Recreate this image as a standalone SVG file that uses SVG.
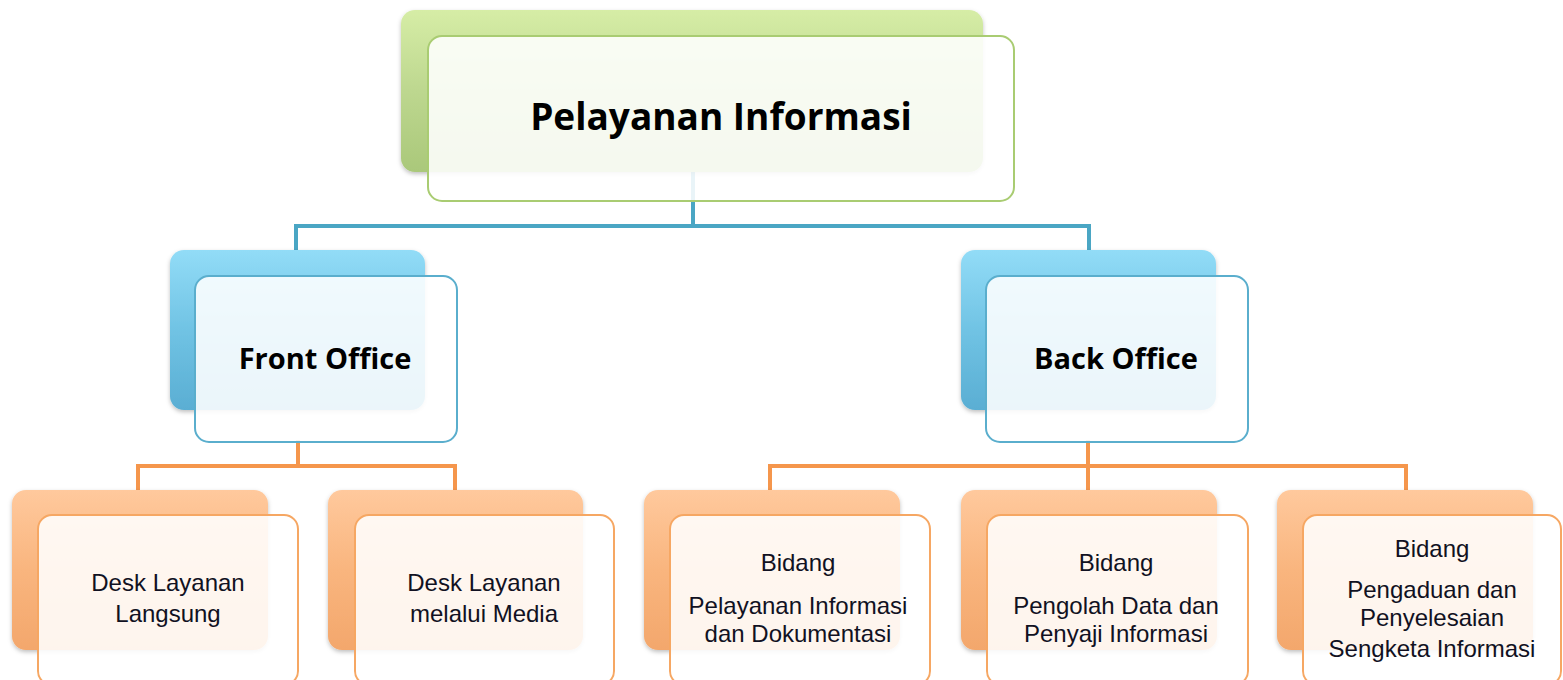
<svg xmlns="http://www.w3.org/2000/svg" width="1563" height="680" viewBox="0 0 1563 680">
<defs>
<linearGradient id="gGreen" x1="0" y1="0" x2="0" y2="1"><stop offset="0" stop-color="#d6eda6"/><stop offset="0.5" stop-color="#bdd78f"/><stop offset="1" stop-color="#aac87a"/></linearGradient>
<linearGradient id="gBlue" x1="0" y1="0" x2="0" y2="1"><stop offset="0" stop-color="#92dcf7"/><stop offset="0.5" stop-color="#70c3e4"/><stop offset="1" stop-color="#5aaed3"/></linearGradient>
<linearGradient id="gOrange" x1="0" y1="0" x2="0" y2="1"><stop offset="0" stop-color="#ffc99d"/><stop offset="0.5" stop-color="#f9b57e"/><stop offset="1" stop-color="#f3a76c"/></linearGradient>
<filter id="sh" x="-10%" y="-10%" width="120%" height="130%"><feDropShadow dx="0" dy="2" stdDeviation="2" flood-color="#000" flood-opacity="0.25"/></filter>
</defs>
<style>
.back{filter:url(#sh)}
.front{fill:#ffffff;fill-opacity:0.88;stroke-width:2}
.fg{stroke:#a9cc72}
.fb{stroke:#5aaecd}
.fo{stroke:#f6a763}
.title{font-family:"Open Sans","Liberation Sans",sans-serif;font-weight:bold;fill:#000;text-anchor:middle}
.lbl{font-family:"Liberation Sans",Arial,sans-serif;font-size:24px;fill:#111122;text-anchor:middle}
.cb{stroke:#4aa6c4;stroke-width:4;fill:none}
.co{stroke:#f5964c;stroke-width:4;fill:none}
</style>
<g id="connectors">
<path class="cb" d="M693 170 V226 M296 226 H1089 M296 224 V254 M1089 224 V254"/>
<path class="co" d="M298 440 V466 M138 466 H457 M138 464 V494 M455 464 V494"/>
<path class="co" d="M1088 440 V466 M770 466 H1406 M770 464 V494 M1088 464 V494 M1406 464 V494"/>
</g>
<g id="node-top">
<rect class="back" x="401" y="10" width="582" height="162" rx="14" fill="url(#gGreen)"/>
<rect class="front fg" x="428" y="36" width="586" height="165" rx="14"/>
<text class="title" x="721" y="130" font-size="37">Pelayanan Informasi</text>
</g>
<g id="node-front-office">
<rect class="back" x="170" y="250" width="255" height="160" rx="14" fill="url(#gBlue)"/>
<rect class="front fb" x="195" y="276" width="262" height="166" rx="14"/>
<text class="title" x="325" y="369" font-size="29">Front Office</text>
</g>
<g id="node-back-office">
<rect class="back" x="961" y="250" width="255" height="160" rx="14" fill="url(#gBlue)"/>
<rect class="front fb" x="986" y="276" width="262" height="166" rx="14"/>
<text class="title" x="1116" y="369" font-size="29">Back Office</text>
</g>
<g id="node-desk-langsung">
<rect class="back" x="12" y="490" width="256" height="160" rx="14" fill="url(#gOrange)"/>
<rect class="front fo" x="38" y="515" width="260" height="170" rx="14"/>
<text class="lbl" x="168" y="591">Desk Layanan</text>
<text class="lbl" x="168" y="622">Langsung</text>
</g>
<g id="node-desk-media">
<rect class="back" x="328" y="490" width="255" height="160" rx="14" fill="url(#gOrange)"/>
<rect class="front fo" x="355" y="515" width="259" height="170" rx="14"/>
<text class="lbl" x="484" y="591">Desk Layanan</text>
<text class="lbl" x="484" y="622">melalui Media</text>
</g>
<g id="node-bidang-pelayanan">
<rect class="back" x="644" y="490" width="256" height="160" rx="14" fill="url(#gOrange)"/>
<rect class="front fo" x="670" y="515" width="260" height="170" rx="14"/>
<text class="lbl" x="798" y="571">Bidang</text>
<text class="lbl" x="798" y="614">Pelayanan Informasi</text>
<text class="lbl" x="798" y="642">dan Dokumentasi</text>
</g>
<g id="node-bidang-pengolah">
<rect class="back" x="961" y="490" width="256" height="160" rx="14" fill="url(#gOrange)"/>
<rect class="front fo" x="987" y="515" width="261" height="170" rx="14"/>
<text class="lbl" x="1116" y="571">Bidang</text>
<text class="lbl" x="1116" y="614">Pengolah Data dan</text>
<text class="lbl" x="1116" y="642">Penyaji Informasi</text>
</g>
<g id="node-bidang-pengaduan">
<rect class="back" x="1277" y="490" width="256" height="160" rx="14" fill="url(#gOrange)"/>
<rect class="front fo" x="1303" y="515" width="258" height="170" rx="14"/>
<text class="lbl" x="1432" y="557">Bidang</text>
<text class="lbl" x="1432" y="598">Pengaduan dan</text>
<text class="lbl" x="1432" y="626">Penyelesaian</text>
<text class="lbl" x="1432" y="657">Sengketa Informasi</text>
</g>
</svg>
